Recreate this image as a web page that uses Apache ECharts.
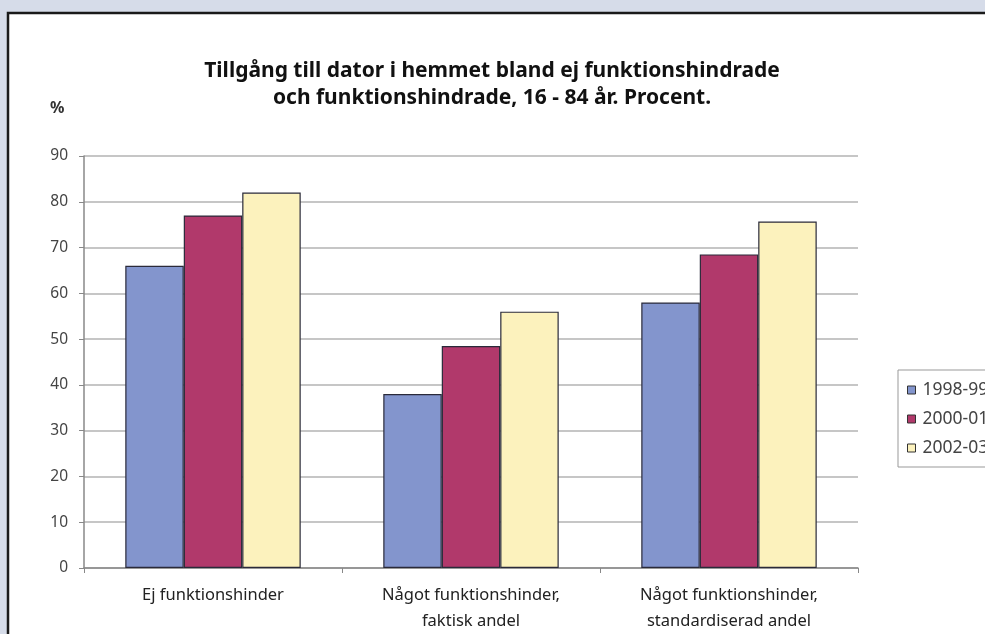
<!DOCTYPE html>
<html>
<head>
<meta charset="utf-8">
<script src="https://cdn.jsdelivr.net/npm/echarts@6/dist/echarts.min.js"></script>
<style>
  html, body { margin: 0; padding: 0; background: #d6dce9; }
  #chart { width: 985px; height: 634px; }
</style>
</head>
<body>
<div id="chart"></div>
<script>
// kategorier och värden (procent)
var categories = [
  "Ej funktionshinder",
  "Något funktionshinder,\nfaktisk andel",
  "Något funktionshinder,\nstandardiserad andel"
];
var years = ["1998-99", "2000-01", "2002-03"];
var v1998 = [66, 38, 58];
var v2000 = [77, 48.5, 68.5];
var v2002 = [82, 56, 75.7];
var yTicks = [0, 10, 20, 30, 40, 50, 60, 70, 80, 90];

var colors = ["#8395cd", "#b1396b", "#fcf2bd"];
var font = "'Noto Sans', 'Liberation Sans', Arial, sans-serif";

var chart = echarts.init(document.getElementById("chart"));

function bar(name, data, color) {
  return {
    name: name,
    type: "bar",
    data: data,
    barGap: 0,
    barCategoryGap: "32%",
    itemStyle: { color: color, borderColor: "#2a2a3a", borderWidth: 1.2 }
  };
}

var option = {
  backgroundColor: "#d6dce9",
  animation: false,
  graphic: [
    {
      // vit panel med svart ram
      type: "rect",
      z: -10,
      shape: { x: 8, y: 13, width: 1000, height: 700 },
      style: { fill: "#ffffff", stroke: "#1a1a1a", lineWidth: 2.5 }
    },
    {
      type: "text",
      x: 492,
      y: 85,
      style: {
        text: "Tillgång till dator i hemmet bland ej funktionshindrade\noch funktionshindrade, 16 - 84 år. Procent.",
        font: "bold 21px " + font,
        fill: "#111",
        align: "center",
        verticalAlign: "middle",
        lineHeight: 27
      }
    },
    {
      type: "text",
      x: 50,
      y: 108,
      style: { text: "%", font: "bold 16px " + font, fill: "#333", verticalAlign: "middle" }
    }
  ],
  grid: { left: 84, top: 156, right: 127, bottom: 65, containLabel: false },
  legend: {
    orient: "vertical",
    left: 898,
    top: 370,
    itemWidth: 8,
    itemHeight: 8,
    itemGap: 11,
    padding: [11, 40, 10, 9],
    borderColor: "#999",
    borderWidth: 1,
    backgroundColor: "#fff",
    icon: "rect",
    itemStyle: { borderColor: "#333", borderWidth: 1 },
    textStyle: { fontFamily: font, fontSize: 17.5, color: "#444", padding: [0, 0, 0, 2] },
    data: years
  },
  xAxis: {
    type: "category",
    data: categories,
    axisLine: { lineStyle: { color: "#888", width: 1.5 } },
    axisTick: { show: true, length: 5, lineStyle: { color: "#888" } },
    axisLabel: {
      color: "#222",
      fontFamily: font,
      fontSize: 16.5,
      margin: 14,
      lineHeight: 26
    }
  },
  yAxis: {
    type: "value",
    min: 0,
    max: 90,
    interval: 10,
    axisLine: { show: true, lineStyle: { color: "#888", width: 1.5 } },
    axisTick: { show: true, length: 5, lineStyle: { color: "#888" } },
    axisLabel: {
      color: "#444",
      fontFamily: font,
      fontSize: 15.5,
      margin: 16,
      formatter: function (v) { return yTicks.indexOf(v) >= 0 ? String(v) : ""; }
    },
    splitLine: { lineStyle: { color: "#b3b3b3", width: 1.5 } }
  },
  series: [
    bar(years[0], v1998, colors[0]),
    bar(years[1], v2000, colors[1]),
    bar(years[2], v2002, colors[2])
  ]
};

chart.setOption(option);
</script>
</body>
</html>
